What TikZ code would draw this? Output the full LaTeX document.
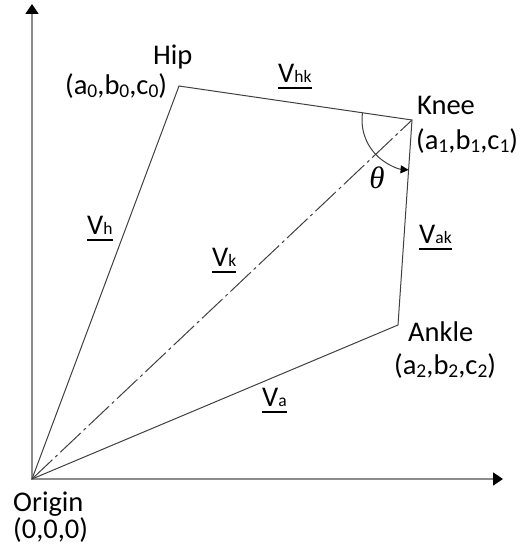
\documentclass[tikz,border=0pt]{standalone}
\usepackage{fontspec}
\setmainfont{Carlito}
\newfontfamily\thetafont{Liberation Serif}
\usetikzlibrary{arrows.meta}
\newcommand\sbx[1]{\raisebox{-2.5pt}{\fontsize{19.5}{19.5}\selectfont #1}}
\newcommand\vsb[1]{{\fontsize{17.5}{17.5}\selectfont #1}}
\newcommand\vlab[1]{\setbox0\hbox{V\vsb{#1}}\rlap{\raisebox{-6pt}{\rule{\wd0}{2pt}}}\box0}
\begin{document}
\begin{tikzpicture}[x=1pt,y=1pt,
  lbl/.style={font=\fontsize{28.5}{30}\selectfont, inner sep=0pt, anchor=base west},
  edge/.style={draw=black!75, line width=1pt},
  axisline/.style={draw=black!45, line width=1.6pt, -{Triangle[width=13pt,length=10pt,color=black]}}]
\useasboundingbox (0,0) rectangle (523,550);
\coordinate (O) at (32,71);
\coordinate (H) at (179,464);
\coordinate (K) at (412,430);
\coordinate (A) at (398,225);
\coordinate (ytip) at (32,546);
\coordinate (xtip) at (503,71);
% axes
\draw[axisline] (O) -- (ytip);
\draw[axisline] (O) -- (xtip);
% polygon
\draw[edge, line join=miter] (O) -- (H) -- (K) -- (A) -- cycle;
\draw[edge, dash pattern=on 28pt off 4pt on 3pt off 4pt] (O) -- (K);
% angle
\draw[edge, -{Triangle[width=8pt,length=8pt,color=black]}] (K) ++(171.7:50) arc[start angle=171.7, end angle=266.1, radius=50];
% labels
\node[lbl] (hip) at (153,485) {Hip};
\node[lbl] (hipc) at (65,455) {(a\sbx{0},b\sbx{0},c\sbx{0})};
\node[lbl] (knee) at (417,435) {Knee};
\node[lbl] (kneec) at (416,400) {(a\sbx{1},b\sbx{1},c\sbx{1})};
\node[lbl] (ankle) at (408,208) {Ankle};
\node[lbl] (anklec) at (394,175) {(a\sbx{2},b\sbx{2},c\sbx{2})};
\node[lbl] (orig) at (13,38) {Origin};
\node[lbl] (origc) at (13,12) {(0,0,0)};
\node[inner sep=0pt, font=\fontsize{31}{33}\selectfont\thetafont\itshape] (theta) at (377,372) {θ};
\node[lbl] (vhk) at (278,467) {\vlab{hk}};
\node[lbl] (vh) at (87,315) {\vlab{h}};
\node[lbl] (vk) at (212,283) {\vlab{k}};
\node[lbl] (vak) at (419,306) {\vlab{ak}};
\node[lbl] (va) at (262,143) {\vlab{a}};
\end{tikzpicture}
\end{document}
